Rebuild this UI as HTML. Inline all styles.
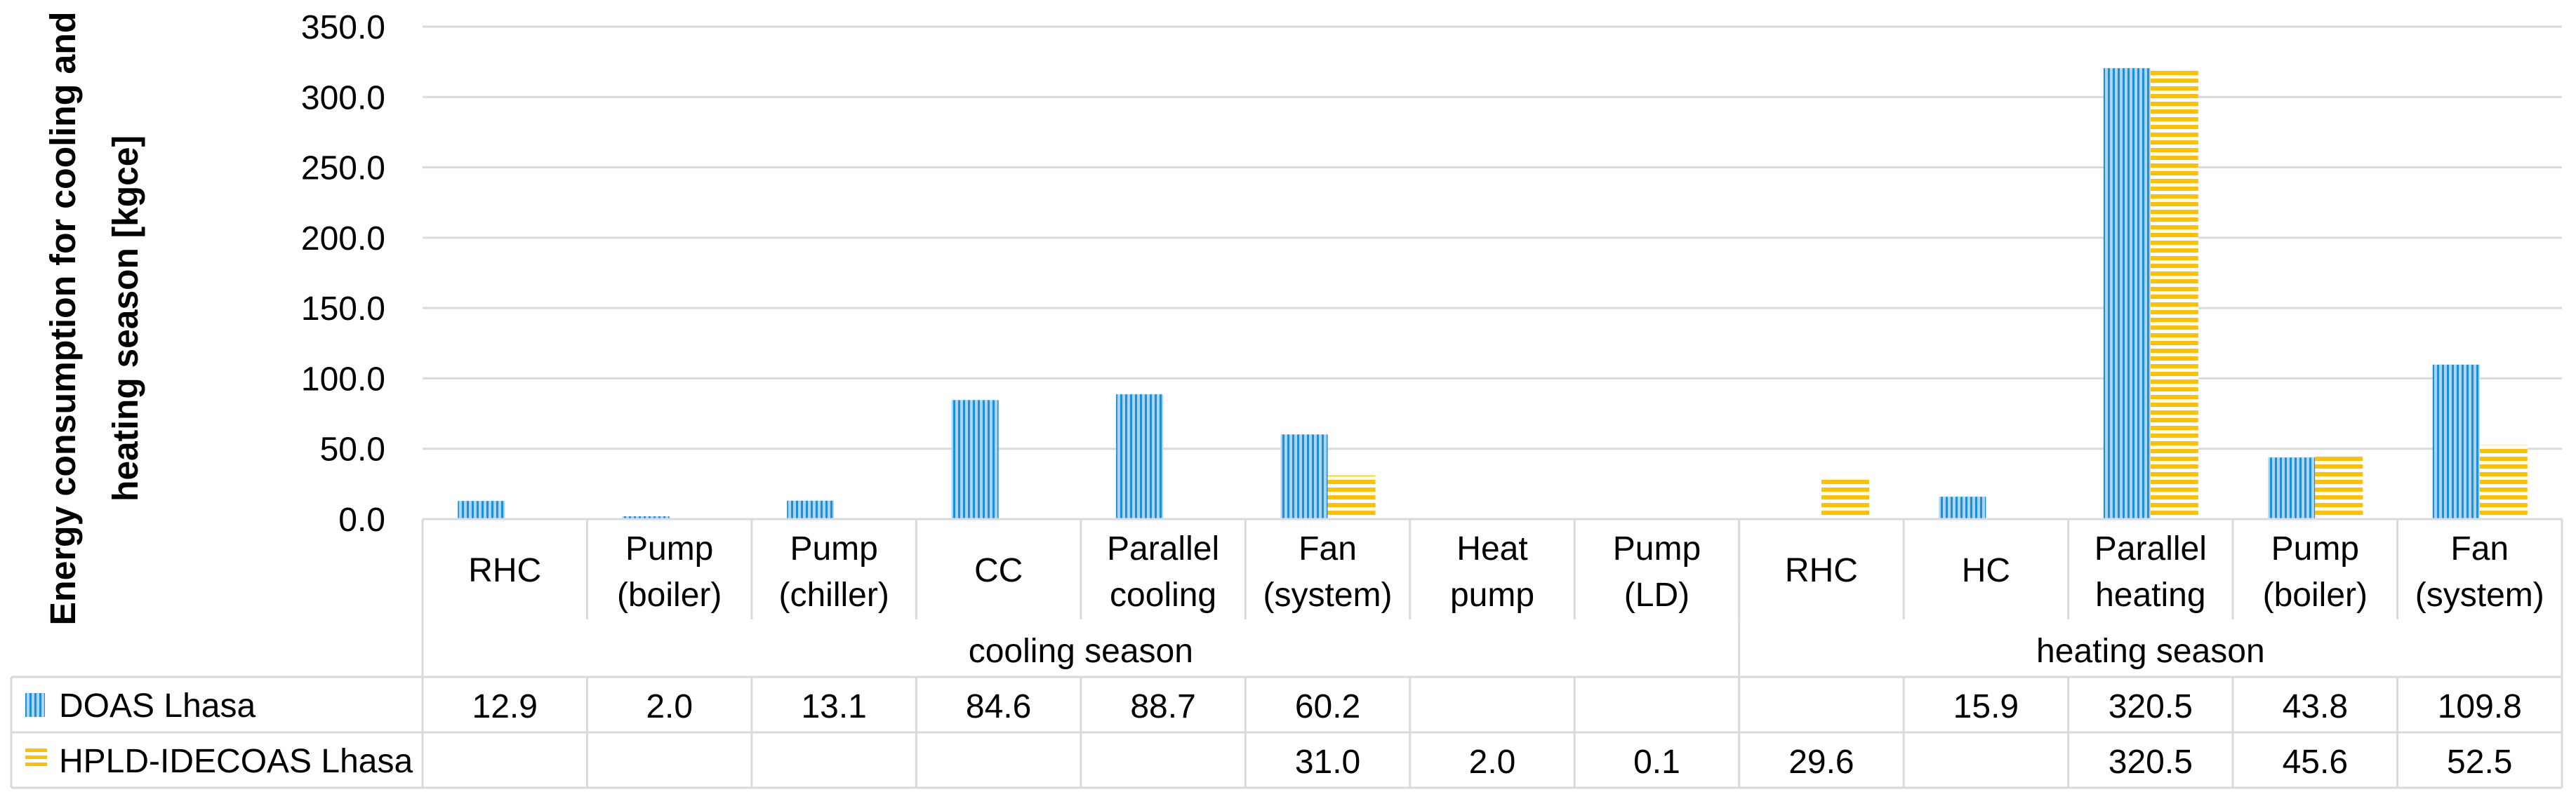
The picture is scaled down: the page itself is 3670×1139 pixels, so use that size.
<!DOCTYPE html>
<html><head><meta charset="utf-8"><style>
html,body{margin:0;padding:0;background:#fff;}
svg{display:block;}
text{font-family:"Liberation Sans",sans-serif;fill:#000;}
</style></head>
<body>
<svg id="chart" width="3670" height="1139" viewBox="0 0 3670 1139" xmlns="http://www.w3.org/2000/svg">
<defs>
<pattern id="pBlue" patternUnits="userSpaceOnUse" width="7" height="10">
<rect x="0" y="0" width="7" height="10" fill="#a9d4f3"/>
<rect x="0" y="0" width="3" height="10" fill="#1e8fd9"/>
</pattern>
<pattern id="pYellow" patternUnits="userSpaceOnUse" width="10" height="11">
<rect x="0" y="0" width="10" height="11" fill="#fff"/>
<rect x="0" y="2" width="10" height="6" fill="#ffc000"/>
</pattern>
</defs>
<g id="grid"></g>
<g id="yticks"></g>
<g font-weight="bold" font-size="51">
<text transform="translate(107,454) rotate(-90)" text-anchor="middle" textLength="875" lengthAdjust="spacingAndGlyphs">Energy consumption for cooling and</text>
<text transform="translate(196,454) rotate(-90)" text-anchor="middle" textLength="522" lengthAdjust="spacingAndGlyphs">heating season [kgce]</text>
</g>
<g id="bars"></g>
<g id="table"></g>
</svg>
<script>
const categories = [["RHC"],["Pump","(boiler)"],["Pump","(chiller)"],["CC"],["Parallel","cooling"],["Fan","(system)"],["Heat","pump"],["Pump","(LD)"],["RHC"],["HC"],["Parallel","heating"],["Pump","(boiler)"],["Fan","(system)"]];
const seasons = ["cooling season","heating season"];
const seasonSpans = [8,5];
const doasValues = [12.9,2.0,13.1,84.6,88.7,60.2,null,null,null,15.9,320.5,43.8,109.8];
const hpldValues = [null,null,null,null,null,31.0,2.0,0.1,29.6,null,320.5,45.6,52.5];
const seriesNames = ["DOAS Lhasa","HPLD-IDECOAS Lhasa"];
const yTicks = [0,50,100,150,200,250,300,350];

const NS="http://www.w3.org/2000/svg";
const X0=602, X1=3650, Y0=740, YTOP=38, YMAX=350;
const colW=(X1-X0)/categories.length;
const barW=67;
const yS=v=>Y0-(v/YMAX)*(Y0-YTOP);
const xC=i=>X0+(i+0.5)*colW;
function mk(tag,attrs,parent){const e=document.createElementNS(NS,tag);for(const k in attrs)e.setAttribute(k,attrs[k]);parent.appendChild(e);return e;}
const grid=document.getElementById('grid'), yt=document.getElementById('yticks'), bars=document.getElementById('bars'), tb=document.getElementById('table');
const LINE="#dadada";

yTicks.forEach(t=>{
  if(t>0){const l=mk('line',{x1:X0,x2:X1,y1:yS(t),y2:yS(t),stroke:LINE,'stroke-width':3},grid);
  
  }
  const tx=mk('text',{x:549,y:yS(t)+17,'text-anchor':'end','font-size':48},yt);
  tx.textContent=t.toFixed(1);
  
  
});

categories.forEach((c,i)=>{
  const d=doasValues[i], h=hpldValues[i];
  if(d!==null){const r=mk('rect',{x:xC(i)-barW,y:yS(d),width:barW,height:Y0-yS(d),fill:'url(#pBlue)'},bars);
    
    }
  if(h!==null){const r=mk('rect',{x:xC(i),y:yS(h),width:barW+1,height:Y0-yS(h),fill:'url(#pYellow)'},bars);
    
    }
});

const R1=965,R2=1044,R3=1123,CATB=883,LL=16;
[[X0,Y0,X1,Y0],[LL,R1,X1,R1],[LL,R2,X1,R2],[LL,R3,X1,R3],[LL,R1,LL,R3],[X0,Y0,X0,R3],[X1,Y0,X1,R3]].forEach(a=>{
  mk('line',{x1:a[0],y1:a[1],x2:a[2],y2:a[3],stroke:LINE,'stroke-width':3},tb);
});
let acc=0;
seasonSpans.forEach((s,k)=>{
  const xs=X0+acc*colW, xe=X0+(acc+s)*colW;
  if(k>0)mk('line',{x1:xs,y1:Y0,x2:xs,y2:R3,stroke:LINE,'stroke-width':3},tb);
  const st=mk('text',{x:(xs+xe)/2,y:944,'text-anchor':'middle','font-size':48},tb);
  st.textContent=seasons[k];
  
  
  acc+=s;
});
categories.forEach((c,i)=>{
  const xl=X0+(i+1)*colW;
  if(i<categories.length-1){
    mk('line',{x1:xl,y1:Y0,x2:xl,y2:CATB,stroke:LINE,'stroke-width':3},tb);
    mk('line',{x1:xl,y1:R1,x2:xl,y2:R3,stroke:LINE,'stroke-width':3},tb);
  }
  const t=mk('text',{x:xC(i),'text-anchor':'middle','font-size':48},tb);
  
  
  if(c.length===1){t.setAttribute('y',829);t.textContent=c[0];}
  else{t.setAttribute('y',798);t.textContent=c[0];
    const t2=mk('text',{x:xC(i),y:864,'text-anchor':'middle','font-size':48},tb);t2.textContent=c[1];
    
    }
  [[doasValues[i],1023],[hpldValues[i],1102]].forEach(p=>{
    if(p[0]===null)return;
    const v=mk('text',{x:xC(i),y:p[1],'text-anchor':'middle','font-size':48},tb);
    v.textContent=p[0].toFixed(1);
    
    
  });
});
const lg1=mk('g',{},tb);


mk('rect',{x:36,y:988,width:28,height:34,fill:'url(#pBlue)'},lg1);
const lt1=mk('text',{x:84,y:1022,'font-size':48},lg1);lt1.textContent=seriesNames[0];
const lg2=mk('g',{},tb);


mk('rect',{x:36,y:1067,width:31,height:5,fill:'#ffc000'},lg2);
mk('rect',{x:36,y:1077,width:31,height:5,fill:'#ffc000'},lg2);
mk('rect',{x:36,y:1087,width:31,height:5,fill:'#ffc000'},lg2);
const lt2=mk('text',{x:84,y:1101,'font-size':48},lg2);lt2.textContent=seriesNames[1];
</script>
</body></html>
